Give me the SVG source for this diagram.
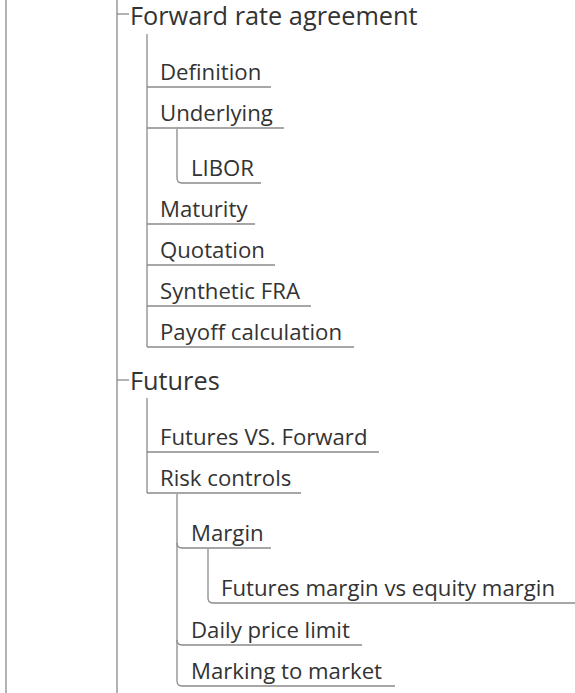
<svg xmlns="http://www.w3.org/2000/svg" width="575" height="693" viewBox="0 0 575 693">
<style>
.ln{fill:none;stroke:#8a8a8a;stroke-width:1.3}
.t1{font-family:"Open Sans","Noto Sans","DejaVu Sans",sans-serif;font-size:25.3px;fill:#333}
.t2{font-family:"Open Sans","Noto Sans","DejaVu Sans",sans-serif;font-size:22.2px;fill:#333}
</style>
<rect width="575" height="693" fill="#fff"/>
<g id="connectors">
<path class="ln" d="M6 0V693"/>
<path class="ln" d="M117 0V693"/>
<path class="ln" d="M117 14H129"/>
<path class="ln" d="M117 380H129"/>
<path class="ln" d="M147 34V347"/>
<path class="ln" d="M177 129V178Q177 183 182 183"/>
<path class="ln" d="M147 398V493"/>
<path class="ln" d="M177 494V681Q177 686 182 686"/>
<path class="ln" d="M177 543Q177 548 182 548"/>
<path class="ln" d="M177 640Q177 645 182 645"/>
<path class="ln" d="M208 549V598Q208 603 213 603"/>
</g>
<g id="n-fra"><text class="t1" x="130" y="25">Forward rate agreement</text></g>
<g id="n-definition"><text class="t2" x="160" y="80">Definition</text><path class="ln" d="M147 87H271"/></g>
<g id="n-underlying"><text class="t2" x="160" y="121">Underlying</text><path class="ln" d="M147 128H284"/></g>
<g id="n-libor"><text class="t2" x="191" y="176">LIBOR</text><path class="ln" d="M182 183H261"/></g>
<g id="n-maturity"><text class="t2" x="160" y="217">Maturity</text><path class="ln" d="M147 224H255"/></g>
<g id="n-quotation"><text class="t2" x="160" y="258">Quotation</text><path class="ln" d="M147 265H275"/></g>
<g id="n-synthetic"><text class="t2" x="160" y="299">Synthetic FRA</text><path class="ln" d="M147 306H311"/></g>
<g id="n-payoff"><text class="t2" x="160" y="340">Payoff calculation</text><path class="ln" d="M147 347H354"/></g>
<g id="n-futures"><text class="t1" x="130" y="390">Futures</text></g>
<g id="n-vs"><text class="t2" x="160" y="445">Futures VS. Forward</text><path class="ln" d="M147 452H379"/></g>
<g id="n-risk"><text class="t2" x="160" y="486">Risk controls</text><path class="ln" d="M147 493H301"/></g>
<g id="n-margin"><text class="t2" x="191" y="541">Margin</text><path class="ln" d="M182 548H271"/></g>
<g id="n-fmvem"><text class="t2" x="221" y="596">Futures margin vs equity margin</text><path class="ln" d="M213 603H575"/></g>
<g id="n-daily"><text class="t2" x="191" y="638">Daily price limit</text><path class="ln" d="M182 645H362"/></g>
<g id="n-marking"><text class="t2" x="191" y="679">Marking to market</text><path class="ln" d="M182 686H395"/></g>
</svg>
